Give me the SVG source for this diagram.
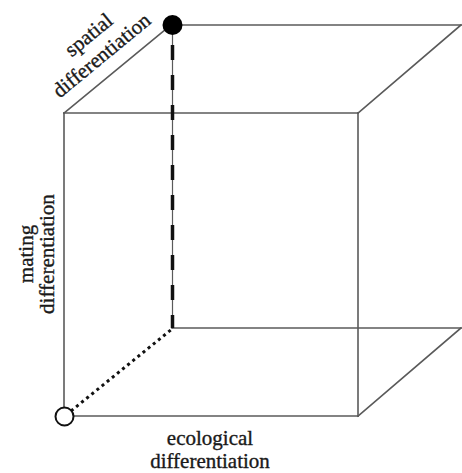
<svg xmlns="http://www.w3.org/2000/svg" width="462" height="473" viewBox="0 0 462 473">
<style>
.edge{stroke:#5a5a5a;stroke-width:1.6;fill:none;stroke-linecap:square}
.dash{stroke:#111;stroke-width:3.5;fill:none;stroke-dasharray:15 15;stroke-dashoffset:20}
.dot{stroke:#111;stroke-width:3;fill:none;stroke-dasharray:3 3.6}
.lbl{font-family:"Liberation Serif","Times New Roman",serif;font-size:21px;fill:#1a1a1a;stroke:#1a1a1a;stroke-width:0.35;text-anchor:middle}
</style>
<rect width="462" height="473" fill="#fff"/>
<g id="connectors">
<line class="edge" x1="64" y1="113" x2="358" y2="113"/>
<line class="edge" x1="64" y1="113" x2="64" y2="407"/>
<line class="edge" x1="74" y1="416" x2="358" y2="416"/>
<line class="edge" x1="358" y1="113" x2="358" y2="416"/>
<line class="edge" x1="182" y1="25" x2="461" y2="25"/>
<line class="edge" x1="172" y1="328" x2="461" y2="328"/>
<line class="edge" x1="64" y1="113" x2="165" y2="30"/>
<line class="edge" x1="358" y1="113" x2="461" y2="25"/>
<line class="edge" x1="358" y1="416" x2="461" y2="328"/>
<line class="edge" x1="172.5" y1="35" x2="172.5" y2="328" style="stroke-width:1.2"/>
<line class="dash" x1="172.5" y1="35" x2="172.5" y2="328"/>
<line class="dot" x1="71" y1="411" x2="172" y2="329"/>
</g>
<g id="node-spatial">
<circle cx="172.5" cy="25" r="10" fill="#000"/>
</g>
<g id="node-origin">
<circle cx="64.5" cy="416.5" r="9" fill="#fff" stroke="#111" stroke-width="2"/>
</g>
<g id="label-spatial" transform="translate(95,45) rotate(-39.5)">
<text class="lbl" x="1.5" y="-5">spatial</text>
<text class="lbl" x="-1.5" y="19">differentiation</text>
</g>
<g id="label-mating" transform="translate(0,254) rotate(-90)">
<text class="lbl" x="0" y="33">mating</text>
<text class="lbl" x="0" y="54">differentiation</text>
</g>
<g id="label-ecological">
<text class="lbl" x="210" y="445">ecological</text>
<text class="lbl" x="210" y="468">differentiation</text>
</g>
</svg>
